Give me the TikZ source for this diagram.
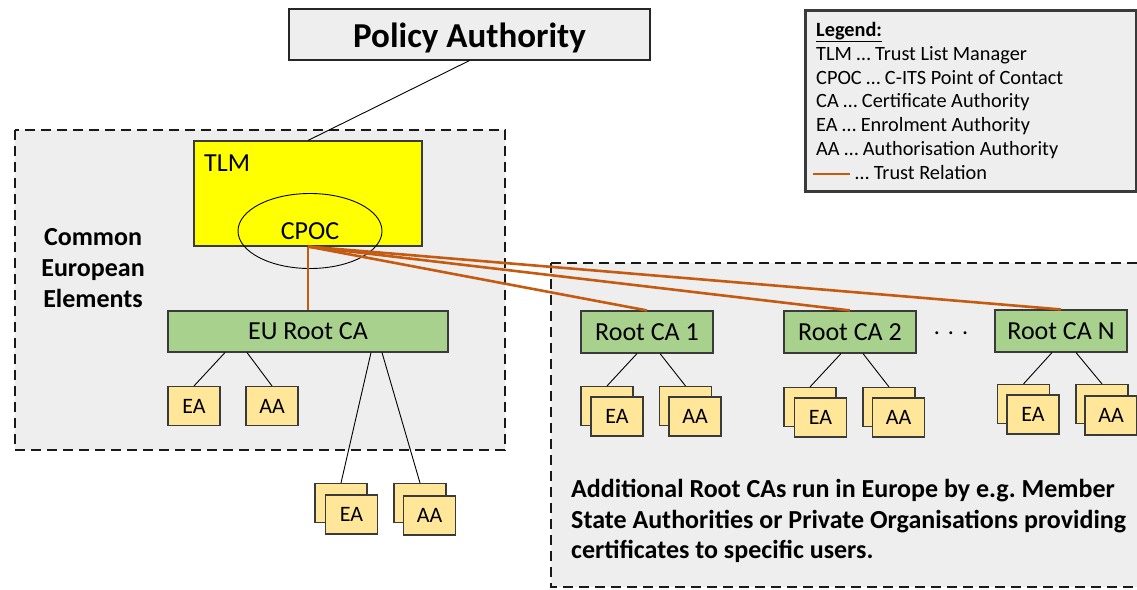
\documentclass[tikz,border=0pt]{standalone}
\usepackage{fontspec}
\setmainfont{Carlito}
\usetikzlibrary{shapes.geometric}
\definecolor{rootgreen}{HTML}{A9D18E}
\definecolor{eafill}{HTML}{FFE699}
\definecolor{trust}{HTML}{C55A11}
\definecolor{tlmyellow}{HTML}{FFFF00}
\definecolor{boxline}{HTML}{3A3A3A}
\definecolor{groupfill}{HTML}{EEEEEE}
\frenchspacing
\begin{document}
\begin{tikzpicture}[x=1pt,y=-1pt,
  box/.style={draw=boxline, line width=1.1pt, inner sep=0pt},
  root/.style={box, fill=rootgreen, minimum width=132pt, minimum height=42pt, font=\fontsize{26}{30}\selectfont},
  auth/.style={box, fill=eafill, minimum width=52pt, minimum height=39pt, font=\fontsize{22}{26}\selectfont},
  link/.style={draw=black, line width=0.9pt},
  trustline/.style={draw=trust, line width=2.6pt},
  group/.style={draw=black!90, line width=2.8pt, dash pattern=on 10pt off 6pt, fill=groupfill},
  legtext/.style={anchor=base west, inner sep=0pt, font=\fontsize{20.3}{24}\selectfont},
  boldtext/.style={inner sep=0pt, font=\bfseries\fontsize{26}{30.8}\selectfont}
]
\useasboundingbox (0,0) rectangle (1137,589);
% groups
\draw[group] (15,130) rectangle (505,450);
\draw[group] (551,263) rectangle (1160,587);

% policy authority
\node[box, fill=groupfill, draw=black!85, minimum width=361pt, minimum height=51pt,
      text height=29pt, text depth=4pt,
      font=\bfseries\fontsize{35}{42}\selectfont] (pa) at (469.5,34.5) {Policy Authority};

% TLM and CPOC
\node[box, fill=tlmyellow, minimum width=228pt, minimum height=105pt] (tlm) at (308,193.5) {};
\node[anchor=west, inner sep=0pt, font=\fontsize{26}{30}\selectfont] (tlmlabel) at (204,163) {TLM};
\node[draw=black, line width=0.9pt, ellipse, inner sep=0pt, minimum width=144pt, minimum height=75pt,
      font=\fontsize{26}{30}\selectfont] (cpoc) at (310,231) {CPOC};

\node[boldtext, align=center] (common) at (93,268) {Common\\European\\Elements};

% EU root
\node[root, minimum width=280pt, minimum height=41pt] (eu) at (308,331.5) {EU Root CA};
\node[auth] (euea1) at (194,406) {EA};
\node[auth] (euaa1) at (272,406) {AA};
\node[auth] (euea2b) at (341,503) {};
\node[auth] (euea2) at (351.5,514.5) {EA};
\node[auth] (euaa2b) at (420,503) {};
\node[auth] (euaa2) at (429.5,515.5) {AA};

% other roots
\node[root] (r1) at (647,332) {Root CA 1};
\node[root] (r2) at (850,332) {Root CA 2};
\node[root] (rn) at (1061,331) {Root CA N};
\node[inner sep=0pt, font=\fontsize{24}{29}\selectfont] (dots) at (951,333) {.\,\,.\,\,.};

\node[auth] (r1eab) at (607,406) {};
\node[auth] (r1ea) at (617,416.5) {EA};
\node[auth] (r1aab) at (685.5,406) {};
\node[auth] (r1aa) at (695,416.5) {AA};

\node[auth] (r2eab) at (810,407) {};
\node[auth] (r2ea) at (820.5,417.5) {EA};
\node[auth] (r2aab) at (889,407) {};
\node[auth] (r2aa) at (898.5,417.5) {AA};

\node[auth] (rneab) at (1023.5,404) {};
\node[auth] (rnea) at (1033,414.5) {EA};
\node[auth] (rnaab) at (1102,404) {};
\node[auth] (rnaa) at (1111,415.5) {AA};

\node[boldtext, align=left, anchor=west] (addtext) at (571,521)
  {Additional Root CAs run in Europe by e.g. Member\\State Authorities or Private Organisations providing\\certificates to specific users.};

% connectors
\draw[link] (pa.south) -- (tlm.north);
\draw[link] ([xshift=-83pt]eu.south) -- (euea1.north);
\draw[link] ([xshift=-61pt]eu.south) -- (euaa1.north);
\draw[link] ([xshift=63pt]eu.south) -- (euea2b.north);
\draw[link] ([xshift=74pt]eu.south) -- (euaa2b.north);
\draw[link] ([xshift=-10pt]r1.south) -- (r1eab.north);
\draw[link] ([xshift=13pt]r1.south) -- (r1aab.north);
\draw[link] ([xshift=-9pt]r2.south) -- (r2eab.north);
\draw[link] ([xshift=13pt]r2.south) -- (r2aab.north);
\draw[link] ([xshift=-9pt]rn.south) -- (rneab.north);
\draw[link] ([xshift=15pt]rn.south) -- (rnaab.north);

\draw[trustline] (tlm.south) -- (eu.north);
\draw[trustline] (tlm.south) -- (r1.north);
\draw[trustline] (tlm.south) -- (r2.north);
\draw[trustline] (tlm.south) -- (rn.north);

% legend
\node[draw=boxline, line width=2.5pt, fill=groupfill, inner sep=0pt, anchor=north west,
      minimum width=331pt, minimum height=181pt] (legend) at (804,9) {};
\node[legtext] (lg0) at (816,36.4) {\underline{\textbf{Legend:}}};
\node[legtext] (lg1) at (816,60.2) {TLM … Trust List Manager};
\node[legtext] (lg2) at (816,84) {CPOC … C-ITS Point of Contact};
\node[legtext] (lg3) at (816,107.8) {CA … Certificate Authority};
\node[legtext] (lg4) at (816,131.6) {EA … Enrolment Authority};
\node[legtext] (lg5) at (816,155.4) {AA … Authorisation Authority};
\node[legtext] (lg6) at (855,179.2) {… Trust Relation};
\coordinate (ls) at (813,174);
\coordinate (le) at (850,174);
\draw[trustline] (ls) -- (le);
\end{tikzpicture}
\end{document}
